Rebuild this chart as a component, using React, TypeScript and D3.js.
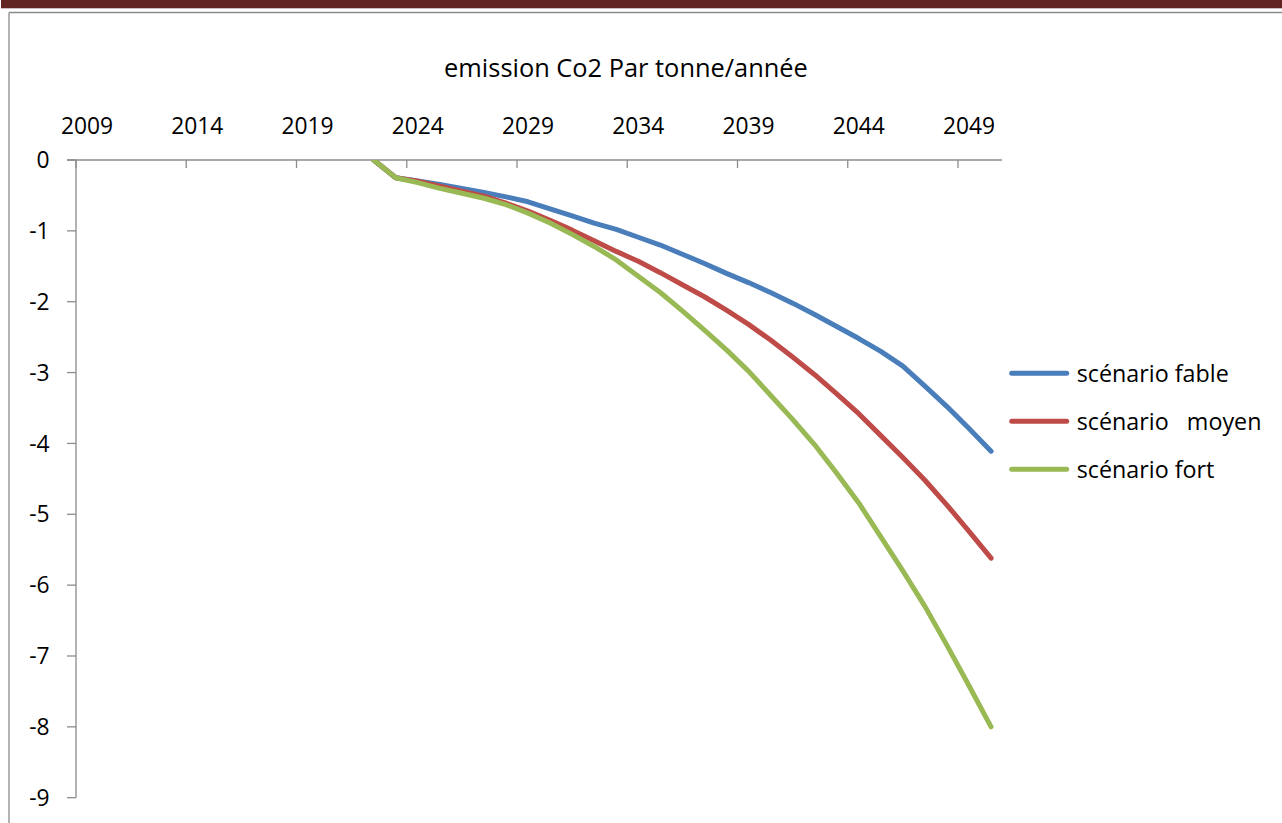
import React from "react";
import * as d3 from "d3";

const categories: number[] = d3.range(2009, 2051);
const tickLabels: string[] = ["2009", "2014", "2019", "2024", "2029", "2034", "2039", "2044", "2049"];
const yTicks: number[] = [0, -1, -2, -3, -4, -5, -6, -7, -8, -9];

const seriesYears: number[] = [
  2022, 2023, 2024, 2025, 2026, 2027, 2028, 2029, 2030, 2031, 2032, 2033, 2034, 2035, 2036,
  2037, 2038, 2039, 2040, 2041, 2042, 2043, 2044, 2045, 2046, 2047, 2048, 2049, 2050,
];
const fable: number[] = [
  0, -0.25, -0.295, -0.345, -0.4, -0.457, -0.52, -0.59, -0.69, -0.79, -0.89, -0.98, -1.09, -1.2, -1.33,
  -1.46, -1.6, -1.73, -1.87, -2.02, -2.18, -2.35, -2.52, -2.7, -2.91, -3.19, -3.48, -3.79, -4.11,
];
const moyen: number[] = [
  0, -0.25, -0.3, -0.37, -0.44, -0.51, -0.61, -0.72, -0.85, -0.99, -1.14, -1.29, -1.43, -1.59, -1.76,
  -1.93, -2.12, -2.32, -2.54, -2.78, -3.03, -3.3, -3.58, -3.89, -4.2, -4.52, -4.87, -5.24, -5.62,
];
const fort: number[] = [
  0, -0.25, -0.32, -0.4, -0.47, -0.54, -0.63, -0.75, -0.89, -1.05, -1.22, -1.41, -1.64, -1.87, -2.13,
  -2.4, -2.68, -2.98, -3.32, -3.66, -4.02, -4.42, -4.84, -5.32, -5.8, -6.3, -6.85, -7.42, -8.0,
];

const seriesNames: string[] = ["scénario fable", "scénario   moyen", "scénario fort"];
const seriesColors: string[] = ["#4A7EBB", "#BE4B48", "#98B954"];
const seriesValues: number[][] = [fable, moyen, fort];

const W = 1282;
const H = 823;
const FONT = "'Open Sans', 'DejaVu Sans', sans-serif";

export default function App() {
  const plotLeft = 76;
  const plotRight = 76 + 42 * 22.05;
  const plotTop = 160;
  const plotBottom = 797.7;

  const x = d3.scaleBand<number>().domain(categories).range([plotLeft, plotRight]).padding(0);
  const bw = x.bandwidth();
  const xc = (yr: number) => (x(yr) as number) + bw / 2;
  const y = d3.scaleLinear().domain([-9, 0]).range([plotBottom, plotTop]);

  const line = d3
    .line<[number, number]>()
    .x((d) => xc(d[0]))
    .y((d) => y(d[1]));

  const tickCats = tickLabels.map((t) => +t);
  const axisColor = "#8C8C8C";

  return (
    <svg
      width={W}
      height={H}
      style={{ position: "absolute", left: 0, top: 0, background: "#fff" }}
      fontFamily={FONT}
    >
      <defs>
        <clipPath id="plotclip">
          <rect x={plotLeft} y={plotTop} width={plotRight - plotLeft + 10} height={plotBottom - plotTop + 10} />
        </clipPath>
      </defs>
      {/* top band */}
      <rect x={1} y={0} width={W - 1} height={8.3} fill="#622423" />
      {/* frame */}
      <line x1={9} y1={12.5} x2={W} y2={12.5} stroke="#8a8a8a" strokeWidth={1.3} />
      <line x1={9} y1={12.5} x2={9} y2={H} stroke="#8a8a8a" strokeWidth={1.3} />

      {/* title */}
      <text x={626} y={77} textAnchor="middle" fontSize={25.4} fill="#000">
        emission Co2 Par tonne/année
      </text>

      {/* x axis (top) */}
      <line x1={plotLeft - 9} y1={plotTop} x2={plotRight} y2={plotTop} stroke={axisColor} strokeWidth={1.3} />
      {tickCats.map((c) => (
        <line key={"xt" + c} x1={x(c) as number} x2={x(c) as number} y1={plotTop} y2={plotTop + 8} stroke={axisColor} strokeWidth={1.3} />
      ))}
      {tickLabels.map((t) => (
        <text key={"xl" + t} x={xc(+t)} y={134.3} textAnchor="middle" fontSize={22.8} fill="#000">
          {t}
        </text>
      ))}

      {/* y axis */}
      <line x1={plotLeft} y1={plotTop} x2={plotLeft} y2={plotBottom} stroke={axisColor} strokeWidth={1.3} />
      {yTicks.map((v) => (
        <g key={"yt" + v}>
          <line x1={plotLeft - 9} x2={plotLeft} y1={y(v)} y2={y(v)} stroke={axisColor} strokeWidth={1.3} />
          <text x={49.5} y={y(v)} dy="0.36em" textAnchor="end" fontSize={22.8} fill="#000">
            {v}
          </text>
        </g>
      ))}

      {/* series */}
      <g clipPath="url(#plotclip)">
        {seriesValues.map((vals, i) => (
          <path
            key={"s" + i}
            d={line(seriesYears.map((yr, j) => [yr, vals[j]] as [number, number])) || ""}
            fill="none"
            stroke={seriesColors[i]}
            strokeWidth={5}
            strokeLinejoin="round"
            strokeLinecap="round"
          />
        ))}
      </g>

      {/* legend */}
      {seriesNames.map((n, i) => {
        const ly = 373.3 + i * 48;
        return (
          <g key={"lg" + i}>
            <line x1={1011.7} x2={1066.7} y1={ly} y2={ly} stroke={seriesColors[i]} strokeWidth={5} strokeLinecap="round" />
            <text x={1076.7} y={ly} dy="0.36em" fontSize={23.3} fill="#000" style={{ whiteSpace: "pre" }}>
              {n}
            </text>
          </g>
        );
      })}
    </svg>
  );
}
